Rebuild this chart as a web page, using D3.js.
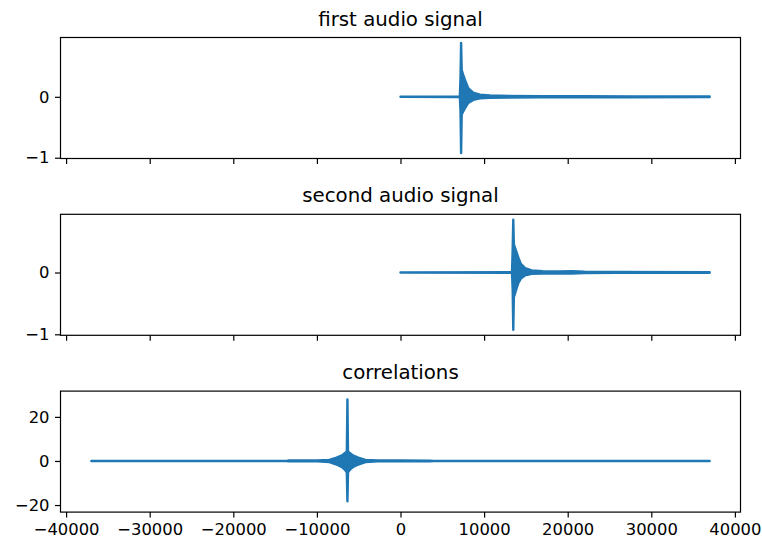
<!DOCTYPE html>
<html>
<head>
<meta charset="utf-8">
<script src="https://cdn.jsdelivr.net/npm/d3@7"></script>
<style>
  body { margin: 0; background: #fff; }
  svg { display: block; font-family: "DejaVu Sans", sans-serif; }
</style>
</head>
<body>
<svg id="chart" width="762" height="539"></svg>
<script>
/* Three stacked panels sharing one x axis: two audio signals and their correlation.
   Waveforms are too dense to list sample by sample, so each one is kept as an
   envelope (upper / lower value). */

const titles = ['first audio signal', 'second audio signal', 'correlations'];

// shared x limits and ticks
const xLim = [-40670, 40670];
const xTicks = [-40000, -30000, -20000, -10000, 0, 10000, 20000, 30000, 40000];

// first audio signal envelope
const sig1X  = [0, 7100, 7180, 7250, 7320, 7500, 7700, 8100, 8700, 9500, 10700, 13000, 17000, 22000, 28000, 36980];
const sig1Hi = [0, 0.004, 0.33, 0.884, 0.44, 0.36, 0.28, 0.14, 0.07, 0.035, 0.022, 0.016, 0.012, 0.01, 0.008, 0.006];
const sig1Lo = [0, -0.004, -0.24, -0.923, -0.29, -0.24, -0.19, -0.10, -0.05, -0.025, -0.018, -0.012, -0.01, -0.008, -0.006, -0.004];
const yLim1 = [-1.013, 0.974];
const yTicks1 = [-1, 0];

// second audio signal envelope
const sig2X  = [0, 13340, 13420, 13490, 13560, 13700, 13900, 14100, 14400, 14900, 15700, 17000, 19000, 20500, 22000, 26000, 36980];
const sig2Hi = [0, 0.004, 0.38, 0.853, 0.46, 0.40, 0.32, 0.24, 0.14, 0.07, 0.035, 0.022, 0.016, 0.022, 0.012, 0.008, 0.006];
const sig2Lo = [0, -0.004, -0.28, -0.927, -0.40, -0.34, -0.25, -0.17, -0.10, -0.045, -0.022, -0.015, -0.012, -0.016, -0.01, -0.006, -0.004];
const yLim2 = [-1.016, 0.942];
const yTicks2 = [-1, 0];

// correlation envelope
const corrX  = [-36980, -13500, -13450, -10000, -8500, -7650, -7000, -6600, -6420, -6350, -6280, -6100, -5700, -5050, -4200, -2700, 0, 3500, 4000, 12000, 36980];
const corrHi = [0, 0, 0.2, 0.2, 0.5, 1.5, 2.5, 3.7, 4.4, 27.9, 4.4, 3.7, 2.5, 1.5, 0.5, 0.2, 0.18, 0.15, 0.05, 0.04, 0];
const corrLo = [0, 0, -0.2, -0.2, -0.5, -1.6, -2.8, -4.2, -5.2, -18.3, -5.2, -4.2, -2.8, -1.6, -0.5, -0.2, -0.18, -0.15, -0.05, -0.04, 0];
const yLim3 = [-23.2, 31.7];
const yTicks3 = [-20, 0, 20];

const panels = [
  { title: titles[0], xs: sig1X, hi: sig1Hi, lo: sig1Lo, yLim: yLim1, yTicks: yTicks1 },
  { title: titles[1], xs: sig2X, hi: sig2Hi, lo: sig2Lo, yLim: yLim2, yTicks: yTicks2 },
  { title: titles[2], xs: corrX, hi: corrHi, lo: corrLo, yLim: yLim3, yTicks: yTicks3 }
];

const svg = d3.select('#chart');
const left = 60.5, right = 740.5;
const firstTop = 37.5, step = 176.8, panelH = 121;
const lineColor = '#1f77b4';
const tickLen = 5.5, tickPad = 5.5;
const tickFont = '16.4px', titleFont = '19.8px';

const xScale = d3.scaleLinear().domain(xLim).range([left, right]);
const fmt = d3.format('d');

panels.forEach((p, i) => {
  const top = firstTop + i * step;
  const bottom = top + panelH;
  const yScale = d3.scaleLinear().domain(p.yLim).range([bottom, top]);
  const g = svg.append('g');

  // clip to the axes box
  g.append('clipPath').attr('id', 'clip' + i)
    .append('rect')
    .attr('x', left).attr('y', top)
    .attr('width', right - left).attr('height', panelH);

  const pts = p.xs.map((x, k) => ({ x: x, hi: p.hi[k], lo: p.lo[k] }));
  const area = d3.area()
    .x(d => xScale(d.x))
    .y0(d => yScale(d.lo))
    .y1(d => yScale(d.hi));

  g.append('path')
    .datum(pts)
    .attr('clip-path', `url(#clip${i})`)
    .attr('d', area)
    .attr('fill', lineColor)
    .attr('stroke', lineColor)
    .attr('stroke-width', 2.4)
    .attr('stroke-linejoin', 'round');

  // y axis
  const yAxis = d3.axisLeft(yScale)
    .tickValues(p.yTicks)
    .tickFormat(fmt)
    .tickSize(tickLen)
    .tickPadding(tickPad);
  const yg = g.append('g').attr('transform', `translate(${left},0)`).call(yAxis);
  yg.select('.domain').remove();
  yg.selectAll('line').attr('stroke', '#000').attr('stroke-width', 1.2);
  yg.selectAll('text').attr('fill', '#000').style('font-size', tickFont)
    .style('font-family', '"DejaVu Sans", sans-serif');

  // x axis (labels only on the bottom panel)
  const xAxis = d3.axisBottom(xScale)
    .tickValues(xTicks)
    .tickFormat(i === panels.length - 1 ? fmt : () => '')
    .tickSize(tickLen)
    .tickPadding(tickPad);
  const xg = g.append('g').attr('transform', `translate(0,${bottom})`).call(xAxis);
  xg.select('.domain').remove();
  xg.selectAll('line').attr('stroke', '#000').attr('stroke-width', 1.2);
  xg.selectAll('text').attr('fill', '#000').style('font-size', tickFont)
    .style('font-family', '"DejaVu Sans", sans-serif');

  // frame
  g.append('rect')
    .attr('x', left).attr('y', top)
    .attr('width', right - left).attr('height', panelH)
    .attr('fill', 'none')
    .attr('stroke', '#000')
    .attr('stroke-width', 1.2);

  // title
  g.append('text')
    .attr('x', (left + right) / 2)
    .attr('y', top - 12)
    .attr('text-anchor', 'middle')
    .attr('fill', '#000')
    .style('font-size', titleFont)
    .text(p.title);
});
</script>
</body>
</html>
